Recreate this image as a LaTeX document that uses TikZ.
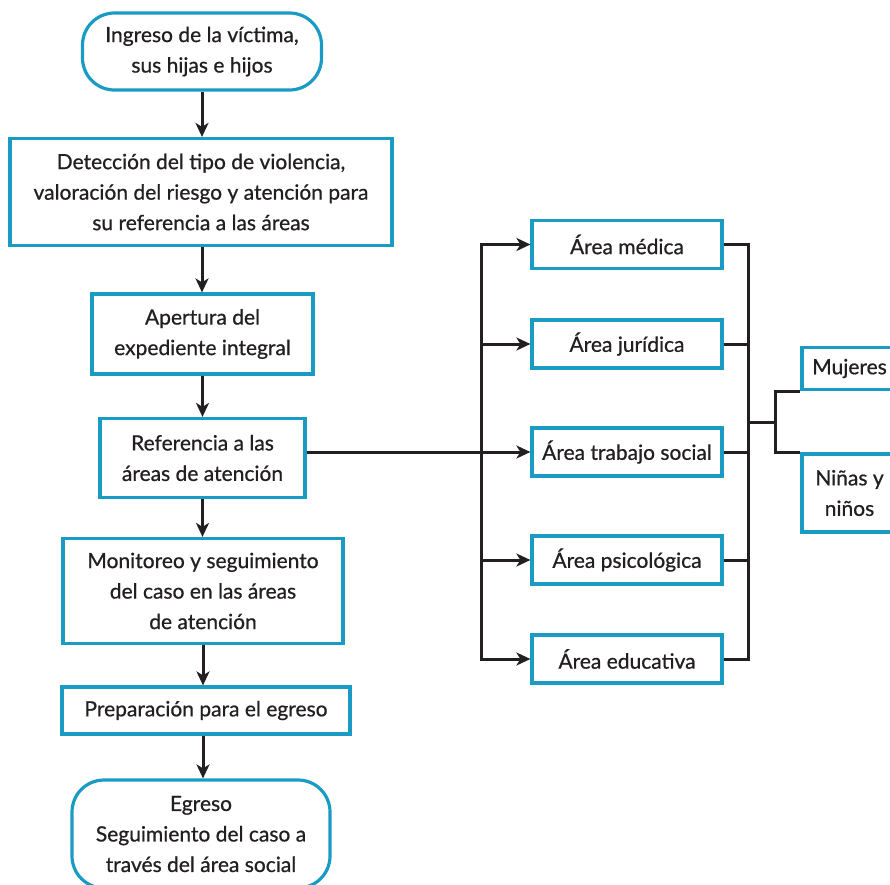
\documentclass[tikz,border=0pt]{standalone}
\usepackage{fontspec}
\setmainfont{Lato}[FakeBold=0.7]
\usetikzlibrary{arrows.meta}
\definecolor{azulcaja}{HTML}{1A9BC4}
\definecolor{tinta}{HTML}{231F20}

\begin{document}
\begin{tikzpicture}[x=1pt,y=-1pt,
    caja/.style={draw=azulcaja,line width=3.2pt,align=center,inner sep=0pt,
      text=tinta,font=\fontsize{21}{30.5}\selectfont},
    redonda/.style={caja,rounded corners=32pt},
    area/.style={caja,minimum width=190pt,minimum height=48pt},
    flecha/.style={draw=tinta,line width=3pt,-{Stealth[length=14pt,width=13pt,inset=4pt]}},
    linea/.style={draw=tinta,line width=3pt}]
    \clip (0,0) rectangle (890,884);
    % columna principal
    \node[redonda,minimum width=239pt,minimum height=77pt] (ingreso) at (202,51.5)
      {Ingreso de la víctima,\\sus hijas e hijos};
    \node[caja,minimum width=382pt,minimum height=107pt] (deteccion) at (201,192)
      {Detección del tipo de violencia,\\valoración del riesgo y atención para\\su referencia a las áreas};
    \node[caja,minimum width=221pt,minimum height=80pt] (apertura) at (202.5,334)
      {Apertura del\\expediente integral};
    \node[caja,minimum width=205pt,minimum height=79pt] (referencia) at (202.5,458)
      {Referencia a las\\áreas de atención};
    \node[caja,minimum width=280pt,minimum height=105pt] (monitoreo) at (203,591)
      {Monitoreo y seguimiento\\del caso en las áreas\\de atención};
    \node[caja,minimum width=288pt,minimum height=47pt] (preparacion) at (206,710.5)
      {Preparación para el egreso};
    \node[redonda,minimum width=258pt,minimum height=108pt] (egreso) at (201,834)
      {Egreso\\Seguimiento del caso a\\través del área social};
    % areas
    \node[area] (medica) at (627,244.5) {Área médica};
    \node[area] (juridica) at (627,344) {Área jurídica};
    \node[area] (social) at (627,452) {Área trabajo social};
    \node[area] (psicologica) at (627,560) {Área psicológica};
    \node[area] (educativa) at (627,659) {Área educativa};
    \node[caja,minimum width=95pt,minimum height=42pt] (mujeres) at (849.5,368.5) {Mujeres};
    \node[caja,minimum width=95pt,minimum height=78pt] (ninas) at (849.5,493) {Niñas y\\niños};
    % flechas
    \draw[flecha] (ingreso.south) -- (ingreso.south |- deteccion.north);
    \draw[flecha] (ingreso.south |- deteccion.south) -- (ingreso.south |- apertura.north);
    \draw[flecha] (apertura.south) -- (apertura.south |- referencia.north);
    \draw[flecha] (referencia.south) -- (referencia.south |- monitoreo.north);
    \draw[flecha] (monitoreo.south) -- (monitoreo.south |- preparacion.north);
    \draw[flecha] (monitoreo.south |- preparacion.south) -- (monitoreo.south |- egreso.north);
    \draw[flecha] (referencia.east |- social) -- (social.west);
    \coordinate (ramaizq) at (481,0);
    \coordinate (ramader) at (748,0);
    \draw[linea,line cap=rect] (ramaizq |- medica) -- (ramaizq |- educativa);
    \foreach \n in {medica,juridica,psicologica,educativa}
      \draw[flecha] (ramaizq |- \n) -- (\n.west);
    \draw[linea,line cap=rect] (ramader |- medica) -- (ramader |- educativa);
    \foreach \n in {medica,juridica,social,psicologica,educativa}
      \draw[linea] (\n.east) -- (ramader |- \n);
    \coordinate (union) at (748,422);
    \coordinate (bifur) at (775,422);
    \draw[linea] (union) -- (bifur);
    \draw[linea,line cap=rect] (bifur |- mujeres.south) -- (bifur |- ninas.north);
    \draw[linea] (bifur |- mujeres.south) -- (mujeres.south west);
    \draw[linea] (bifur |- ninas.north) -- (ninas.north west);
\end{tikzpicture}
\end{document}
